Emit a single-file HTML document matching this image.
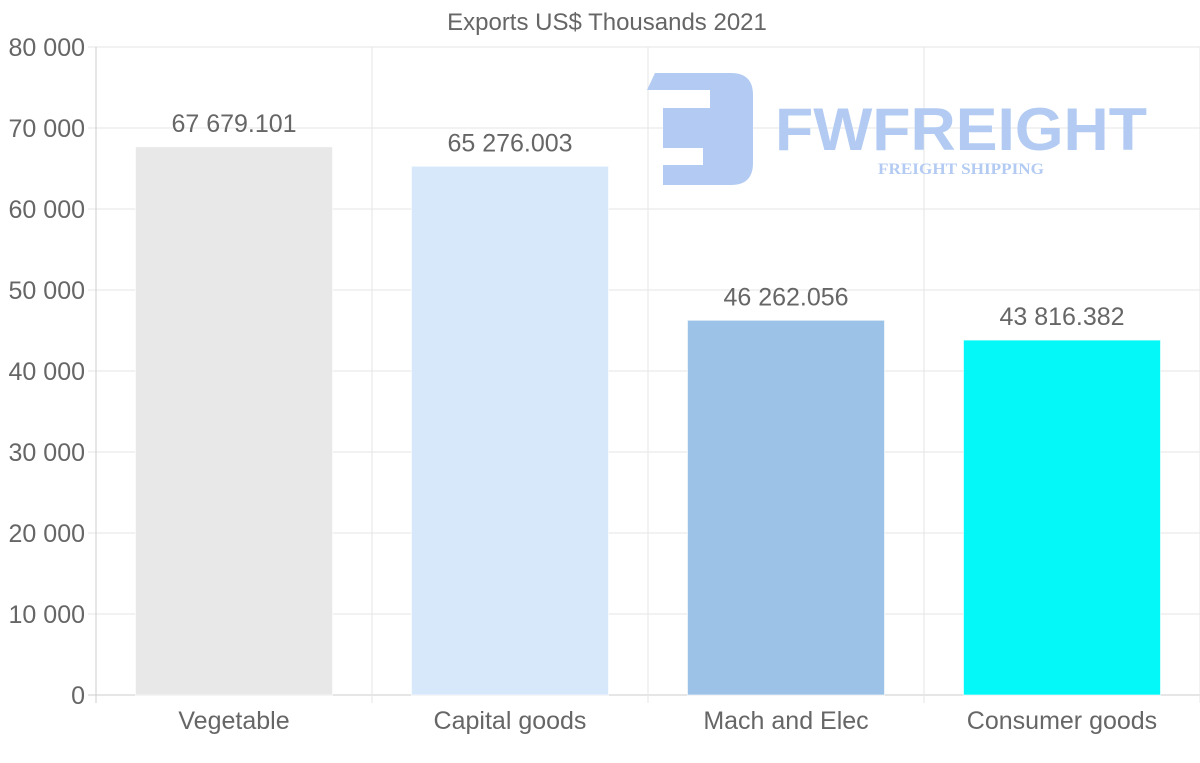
<!DOCTYPE html>
<html><head><meta charset="utf-8"><style>
html,body{margin:0;padding:0;background:#fff;}
svg{display:block;font-family:"Liberation Sans",sans-serif;}
</style></head><body>
<svg id="chart" width="1200" height="763" viewBox="0 0 1200 763">
<text x="607" y="30" text-anchor="middle" font-size="24" fill="#666">Exports US$ Thousands 2021</text>
<g id="grid"></g>
<g id="logo">
<path d="M655 73 H731 Q753 73 753 95 V163 Q753 185 731 185 H663 V90 H647 Z" fill="#b3cbf2"/>
<rect x="663" y="90" width="47" height="18" fill="#fff"/>
<rect x="663" y="148" width="40" height="17" fill="#fff"/>
<text x="961" y="150" text-anchor="middle" font-size="60" font-weight="bold" fill="#b3cbf2" textLength="372" lengthAdjust="spacingAndGlyphs">FWFREIGHT</text>
<text x="961" y="174" text-anchor="middle" font-size="16" font-weight="bold" font-family="Liberation Serif,serif" fill="#b3cbf2" textLength="166" lengthAdjust="spacingAndGlyphs">FREIGHT SHIPPING</text>
</g>
<g id="bars"></g>
<g id="labels"></g>
</svg>
<script>
const categories = ["Vegetable","Capital goods","Mach and Elec","Consumer goods"];
const values = [67679.101, 65276.003, 46262.056, 43816.382];
const valueLabels = ["67 679.101","65 276.003","46 262.056","43 816.382"];
const colors = ["#e8e8e8","#d7e8fa","#9cc3e7","#05f8f8"];
const yTicks = [0,10000,20000,30000,40000,50000,60000,70000,80000];
const yTickLabels = ["0","10 000","20 000","30 000","40 000","50 000","60 000","70 000","80 000"];

const NS="http://www.w3.org/2000/svg";
const L=96,R=1200,T=47,B=695,yMax=80000;
const y=v=>B-(v/yMax)*(B-T);
const band=(R-L)/categories.length;
const xc=i=>L+band*(i+0.5);
function mk(tag,attrs,parent){const e=document.createElementNS(NS,tag);for(const k in attrs)e.setAttribute(k,attrs[k]);parent.appendChild(e);return e;}
const grid=document.getElementById('grid'),bars=document.getElementById('bars'),labels=document.getElementById('labels');
yTicks.forEach((t,i)=>{
  const ln=mk('line',{x1:88,x2:R,y1:y(t),y2:y(t),stroke:t===0?'#ccc':'#e6e6e6','stroke-width':1},grid);
  
  
  const tx=mk('text',{x:85,y:y(t)+9,'text-anchor':'end','font-size':25,fill:'#666'},grid);
  tx.textContent=yTickLabels[i];
  
  
});
for(let i=0;i<=categories.length;i++){
  const x=L+band*i;
  const ln=mk('line',{x1:x,x2:x,y1:T,y2:B+8,stroke:i===0?'#ccc':'#e6e6e6','stroke-width':1},grid);
  
  
}
const bw=197;
categories.forEach((c,i)=>{
  const r=mk('rect',{x:xc(i)-bw/2,y:y(values[i]),width:bw,height:B-y(values[i]),fill:colors[i],stroke:'rgba(255,255,255,0.6)','stroke-width':1},bars);
  
  
  const v=mk('text',{x:xc(i),y:y(values[i])-15,'text-anchor':'middle','font-size':25,fill:'#666'},labels);
  v.textContent=valueLabels[i];
  
  
  const cl=mk('text',{x:xc(i),y:729,'text-anchor':'middle','font-size':25,fill:'#666'},labels);
  cl.textContent=c;
  
  
});
</script>
</body></html>
